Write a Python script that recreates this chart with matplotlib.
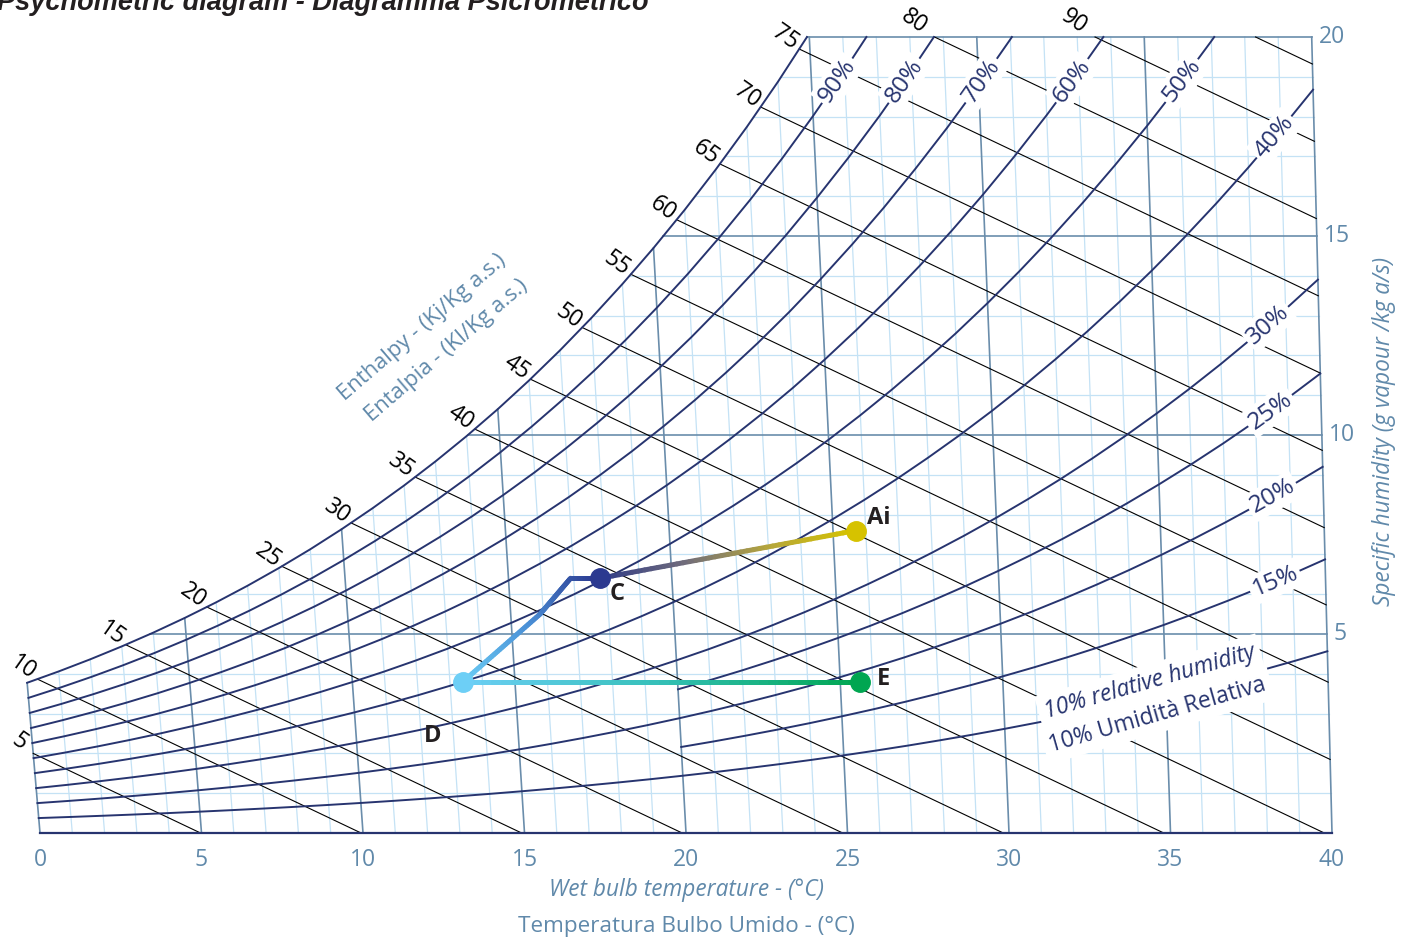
import numpy as np
import matplotlib
matplotlib.use('Agg')
import matplotlib.pyplot as plt
from matplotlib.collections import LineCollection
from matplotlib.colors import LinearSegmentedColormap

plt.rcParams['font.family'] = ['Open Sans', 'DejaVu Sans']

# dry bulb temperature (degC) and saturation vapour pressure (kPa)
temp_c = [0, 1, 2, 3, 4, 5, 6, 7, 8, 9, 10, 11, 12, 13, 14, 15, 16, 17, 18, 19, 20,
          21, 22, 23, 24, 25, 26, 27, 28, 29, 30, 31, 32, 33, 34, 35, 36, 37, 38, 39, 40]
psat_kpa = [0.6112, 0.6571, 0.7060, 0.7581, 0.8135, 0.8726, 0.9354, 1.0021, 1.0730, 1.1482,
            1.2282, 1.3129, 1.4028, 1.4981, 1.5989, 1.7057, 1.8188, 1.9383, 2.0647, 2.1982,
            2.3392, 2.4878, 2.6448, 2.8101, 2.9846, 3.1693, 3.3633, 3.5674, 3.7831, 4.0089,
            4.2467, 4.4966, 4.7592, 5.0351, 5.3247, 5.6286, 5.9475, 6.2818, 6.6324, 6.9997,
            7.3844]
p_atm = 101.325

rh_full = [100, 90, 80, 70, 60, 50, 40, 30, 20, 10]
rh_from_20 = [25, 15]
rh_label_top = [90, 80, 70, 60, 50]
rh_label_side = [40, 30, 25, 20, 15]

enthalpy = [5, 10, 15, 20, 25, 30, 35, 40, 45, 50, 55, 60, 65, 70, 75, 80, 85, 90]
enthalpy_text = ['5', '10', '15', '20', '25', '30', '35', '40', '45', '50', '55', '60',
                 '65', '70', '75', '80', '90', '']

temp_ticks = [0, 5, 10, 15, 20, 25, 30, 35, 40]
humidity_ticks = [5, 10, 15, 20]

# process points: dry bulb (degC), specific humidity (g/kg)
point_name = ['Ai', 'C', 'D', 'E']
point_t = [25.7, 17.8, 13.4, 25.6]
point_w = [7.6, 6.4, 3.8, 3.8]

path_dc_t = [13.4, 15.9, 16.9, 17.8]
path_dc_w = [3.8, 5.5, 6.4, 6.4]
path_cai_t = [17.8, 25.7]
path_cai_w = [6.4, 7.6]
path_de_t = [13.4, 25.6]
path_de_w = [3.8, 3.8]

navy = '#27346f'
steel = '#6089aa'
major = '#6a8dab'
minor = '#c4e2f5'
point_color = ['#d6c200', '#2b3990', '#6dcff6', '#00a651']


def rh_w(t, rh):
    ps = np.interp(t, temp_c, psat_kpa)
    f = rh / 100.0
    return 622.0 * f * ps / (p_atm - f * ps)


def chart_x(t, w):
    # oblique enthalpy / humidity chart: dry bulb lines lean left going up
    return np.asarray(t) + np.asarray(w) * (0.00186 * np.asarray(t) - 0.106) / 1.006


def rh_curve(rh, t_start=0):
    t = np.array([v for v in temp_c if v >= t_start], float)
    w = rh_w(t, rh)
    if w.max() > 20:
        i = int(np.argmax(w > 20))
        tc = np.interp(20, w[i - 1:i + 1], t[i - 1:i + 1])
        t = np.append(t[:i], tc)
        w = np.append(w[:i], 20.0)
    return chart_x(t, w), w


tt = np.array(temp_c, float)
ws_tab = rh_w(tt, 100)
hs_tab = 1.006 * tt + ws_tab * (2.501 + 0.00186 * tt)

fig = plt.figure(figsize=(14.1, 9.39), dpi=100)
ax = fig.add_axes([40 / 1410, 106 / 939, 1292 / 1410, 796 / 939])
ax.set_xlim(0, 40)
ax.set_ylim(0, 20)
for s in ['top', 'left', 'right']:
    ax.spines[s].set_visible(False)
ax.spines['bottom'].set_color(navy)
ax.spines['bottom'].set_linewidth(1.6)
ax.spines['bottom'].set_zorder(6)
ax.set_yticks([])
ax.set_xticks(temp_ticks)
ax.set_xticklabels([str(v) for v in temp_ticks])
ax.tick_params(axis='x', length=0, pad=11, labelsize=16.5, labelcolor=steel)

# dry bulb lines
for t in range(0, 41):
    wt = min(rh_w(t, 100), 20.0)
    is_major = t % 5 == 0
    ax.plot([t, chart_x(t, wt)], [0, wt], color=major if is_major else minor,
            lw=1.2 if is_major else 0.9, zorder=2 if is_major else 1, clip_on=False)

# specific humidity lines
for w in range(1, 21):
    t0 = np.interp(w, ws_tab, tt)
    is_major = w % 5 == 0
    ax.plot([chart_x(t0, w), chart_x(40, w)], [w, w], color=major if is_major else minor,
            lw=1.2 if is_major else 0.9, zorder=2 if is_major else 1, clip_on=False)

# enthalpy lines
for h, lab in zip(enthalpy, enthalpy_text):
    if h < hs_tab[0]:
        w0 = h / 2.501
        x0 = chart_x(0, w0)
        top = False
    else:
        t0 = np.interp(h, hs_tab, tt)
        w0 = np.interp(h, hs_tab, ws_tab)
        top = w0 > 20
        if top:
            w0 = 20.0
            x0 = (h - 2.607 * 20) / 1.006
        else:
            x0 = chart_x(t0, w0)
    if h / 1.006 <= 40:
        x1, w1 = h / 1.006, 0.0
    else:
        w1 = (h - 1.006 * 40) / (2.501 + 0.00186 * 40)
        x1 = chart_x(40, w1)
    ax.plot([x0, x1], [w0, w1], color='black', lw=0.8, zorder=3, clip_on=False)
    if lab:
        off = (-15, 11) if top else (-10, 8)
        ax.annotate(lab, (x0, w0), xytext=off, textcoords='offset points',
                    ha='center', va='center', rotation=-35, fontsize=16.5, color='black',
                    rotation_mode='anchor', zorder=5, annotation_clip=False)

# relative humidity curves
for rh in rh_full:
    cx, cw = rh_curve(rh)
    ax.plot(cx, cw, color=navy, lw=1.4, zorder=4, clip_on=False)
for rh in rh_from_20:
    cx, cw = rh_curve(rh, 20)
    ax.plot(cx, cw, color=navy, lw=1.4, zorder=4, clip_on=False)


def screen_angle(x0, y0, x1, y1):
    a = ax.transData.transform([(x0, y0), (x1, y1)])
    return np.degrees(np.arctan2(a[1, 1] - a[0, 1], a[1, 0] - a[0, 0]))


label_box = dict(boxstyle='square,pad=0.12', fc='white', ec='none')
for rh in rh_label_top + rh_label_side:
    if rh in rh_label_top:
        tg = np.linspace(0, 40, 801)
        t = np.interp(18.9, rh_w(tg, rh), tg)
    else:
        t = 38.8 if rh == 40 else 38.45
    w = rh_w(t, rh)
    ang = screen_angle(chart_x(t - 0.3, rh_w(t - 0.3, rh)), rh_w(t - 0.3, rh),
                       chart_x(t + 0.3, rh_w(t + 0.3, rh)), rh_w(t + 0.3, rh))
    ax.text(chart_x(t, w), w, f'{rh}%', ha='center', va='center', rotation=ang,
            rotation_mode='anchor', fontsize=17.5, color=navy, bbox=label_box, zorder=5)

ax.text(34.35, 3.79, '10% relative humidity', ha='center', va='center', rotation=16,
        rotation_mode='anchor', fontsize=16.5, color=navy, style='italic',
        bbox=dict(boxstyle='square,pad=0.25', fc='white', ec='none'), zorder=5)
ax.text(34.6, 2.97, '10% Umidità Relativa', ha='center', va='center', rotation=16,
        rotation_mode='anchor', fontsize=16.5, color=navy,
        bbox=dict(boxstyle='square,pad=0.25', fc='white', ec='none'), zorder=5)

# humidity labels on the right edge
for w in humidity_ticks:
    ax.annotate(str(w), (chart_x(40, w), w), xytext=(5, 0), textcoords='offset points',
                ha='left', va='center', fontsize=16.5, color=steel, annotation_clip=False)

# axis titles
ax.text(20.0, -1.43, 'Wet bulb temperature - (°C)', ha='center', va='center',
        fontsize=16.3, style='italic', color=steel)
ax.text(20.0, -2.36, 'Temperatura Bulbo Umido - (°C)', ha='center', va='center',
        fontsize=16.2, color=steel)
ax.text(41.6, 10.08, 'Specific humidity (g vapour /kg a/s)', ha='center', va='center',
        rotation=90, fontsize=16.3, style='italic', color=steel)
ax.text(11.83, 12.71, 'Enthalpy - (Kj/Kg a.s.)', ha='center', va='center', rotation=40.6,
        rotation_mode='anchor', fontsize=15.8, color=steel)
ax.text(12.6, 12.12, 'Entalpia - (Kl/Kg a.s.)', ha='center', va='center', rotation=40.6,
        rotation_mode='anchor', fontsize=15.8, color=steel)


def ramp(ts, ws, colors, lw, z):
    xs = chart_x(np.array(ts, float), np.array(ws, float))
    ys = np.array(ws, float)
    pts = []
    for i in range(len(xs) - 1):
        f = np.linspace(0, 1, 40, endpoint=False)
        pts.append(np.column_stack([xs[i] + f * (xs[i + 1] - xs[i]),
                                    ys[i] + f * (ys[i + 1] - ys[i])]))
    pts.append(np.array([[xs[-1], ys[-1]]]))
    pts = np.vstack(pts)
    disp = ax.transData.transform(pts)
    d = np.r_[0, np.cumsum(np.hypot(*np.diff(disp, axis=0).T))]
    d = d / d[-1]
    segs = np.stack([pts[:-1], pts[1:]], axis=1)
    cmap = LinearSegmentedColormap.from_list('ramp', colors)
    lc = LineCollection(segs, colors=cmap((d[:-1] + d[1:]) / 2), linewidths=lw,
                        capstyle='round', zorder=z)
    ax.add_collection(lc)


ramp(path_dc_t, path_dc_w, ['#6ccff6', '#4a8fd6', '#2b3990'], 3.6, 7)
ramp(path_cai_t, path_cai_w, ['#2e3a87', '#6f6b7c', '#b5a63c', '#d6c300'], 3.6, 7)
ramp(path_de_t, path_de_w, ['#6dcff6', '#35c0b8', '#00a651'], 3.6, 7)

px = chart_x(np.array(point_t), np.array(point_w))
for x, w, c in zip(px, point_w, point_color):
    ax.plot(x, w, 'o', ms=14, color=c, zorder=8, clip_on=False)

label_off = {'Ai': (8, 9), 'C': (7, -11.5), 'D': (-21.5, -39), 'E': (12, 2)}
for name, x, w in zip(point_name, px, point_w):
    ox, oy = label_off[name]
    ax.annotate(name, (x, w), xytext=(ox, oy), textcoords='offset points',
                ha='left' if ox > 0 else 'center', va='center', fontsize=17,
                fontweight='bold', color='#231f20', zorder=9)

fig.text(-3 / 1410, 1 - 10 / 939, 'Psychometric diagram - Diagramma Psicrometrico',
         ha='left', va='baseline', fontsize=19.5, fontweight='bold', style='italic',
         family=['Liberation Sans Narrow', 'Liberation Sans', 'DejaVu Sans'], color='#231f20')

fig.savefig('out.png', dpi=100)
